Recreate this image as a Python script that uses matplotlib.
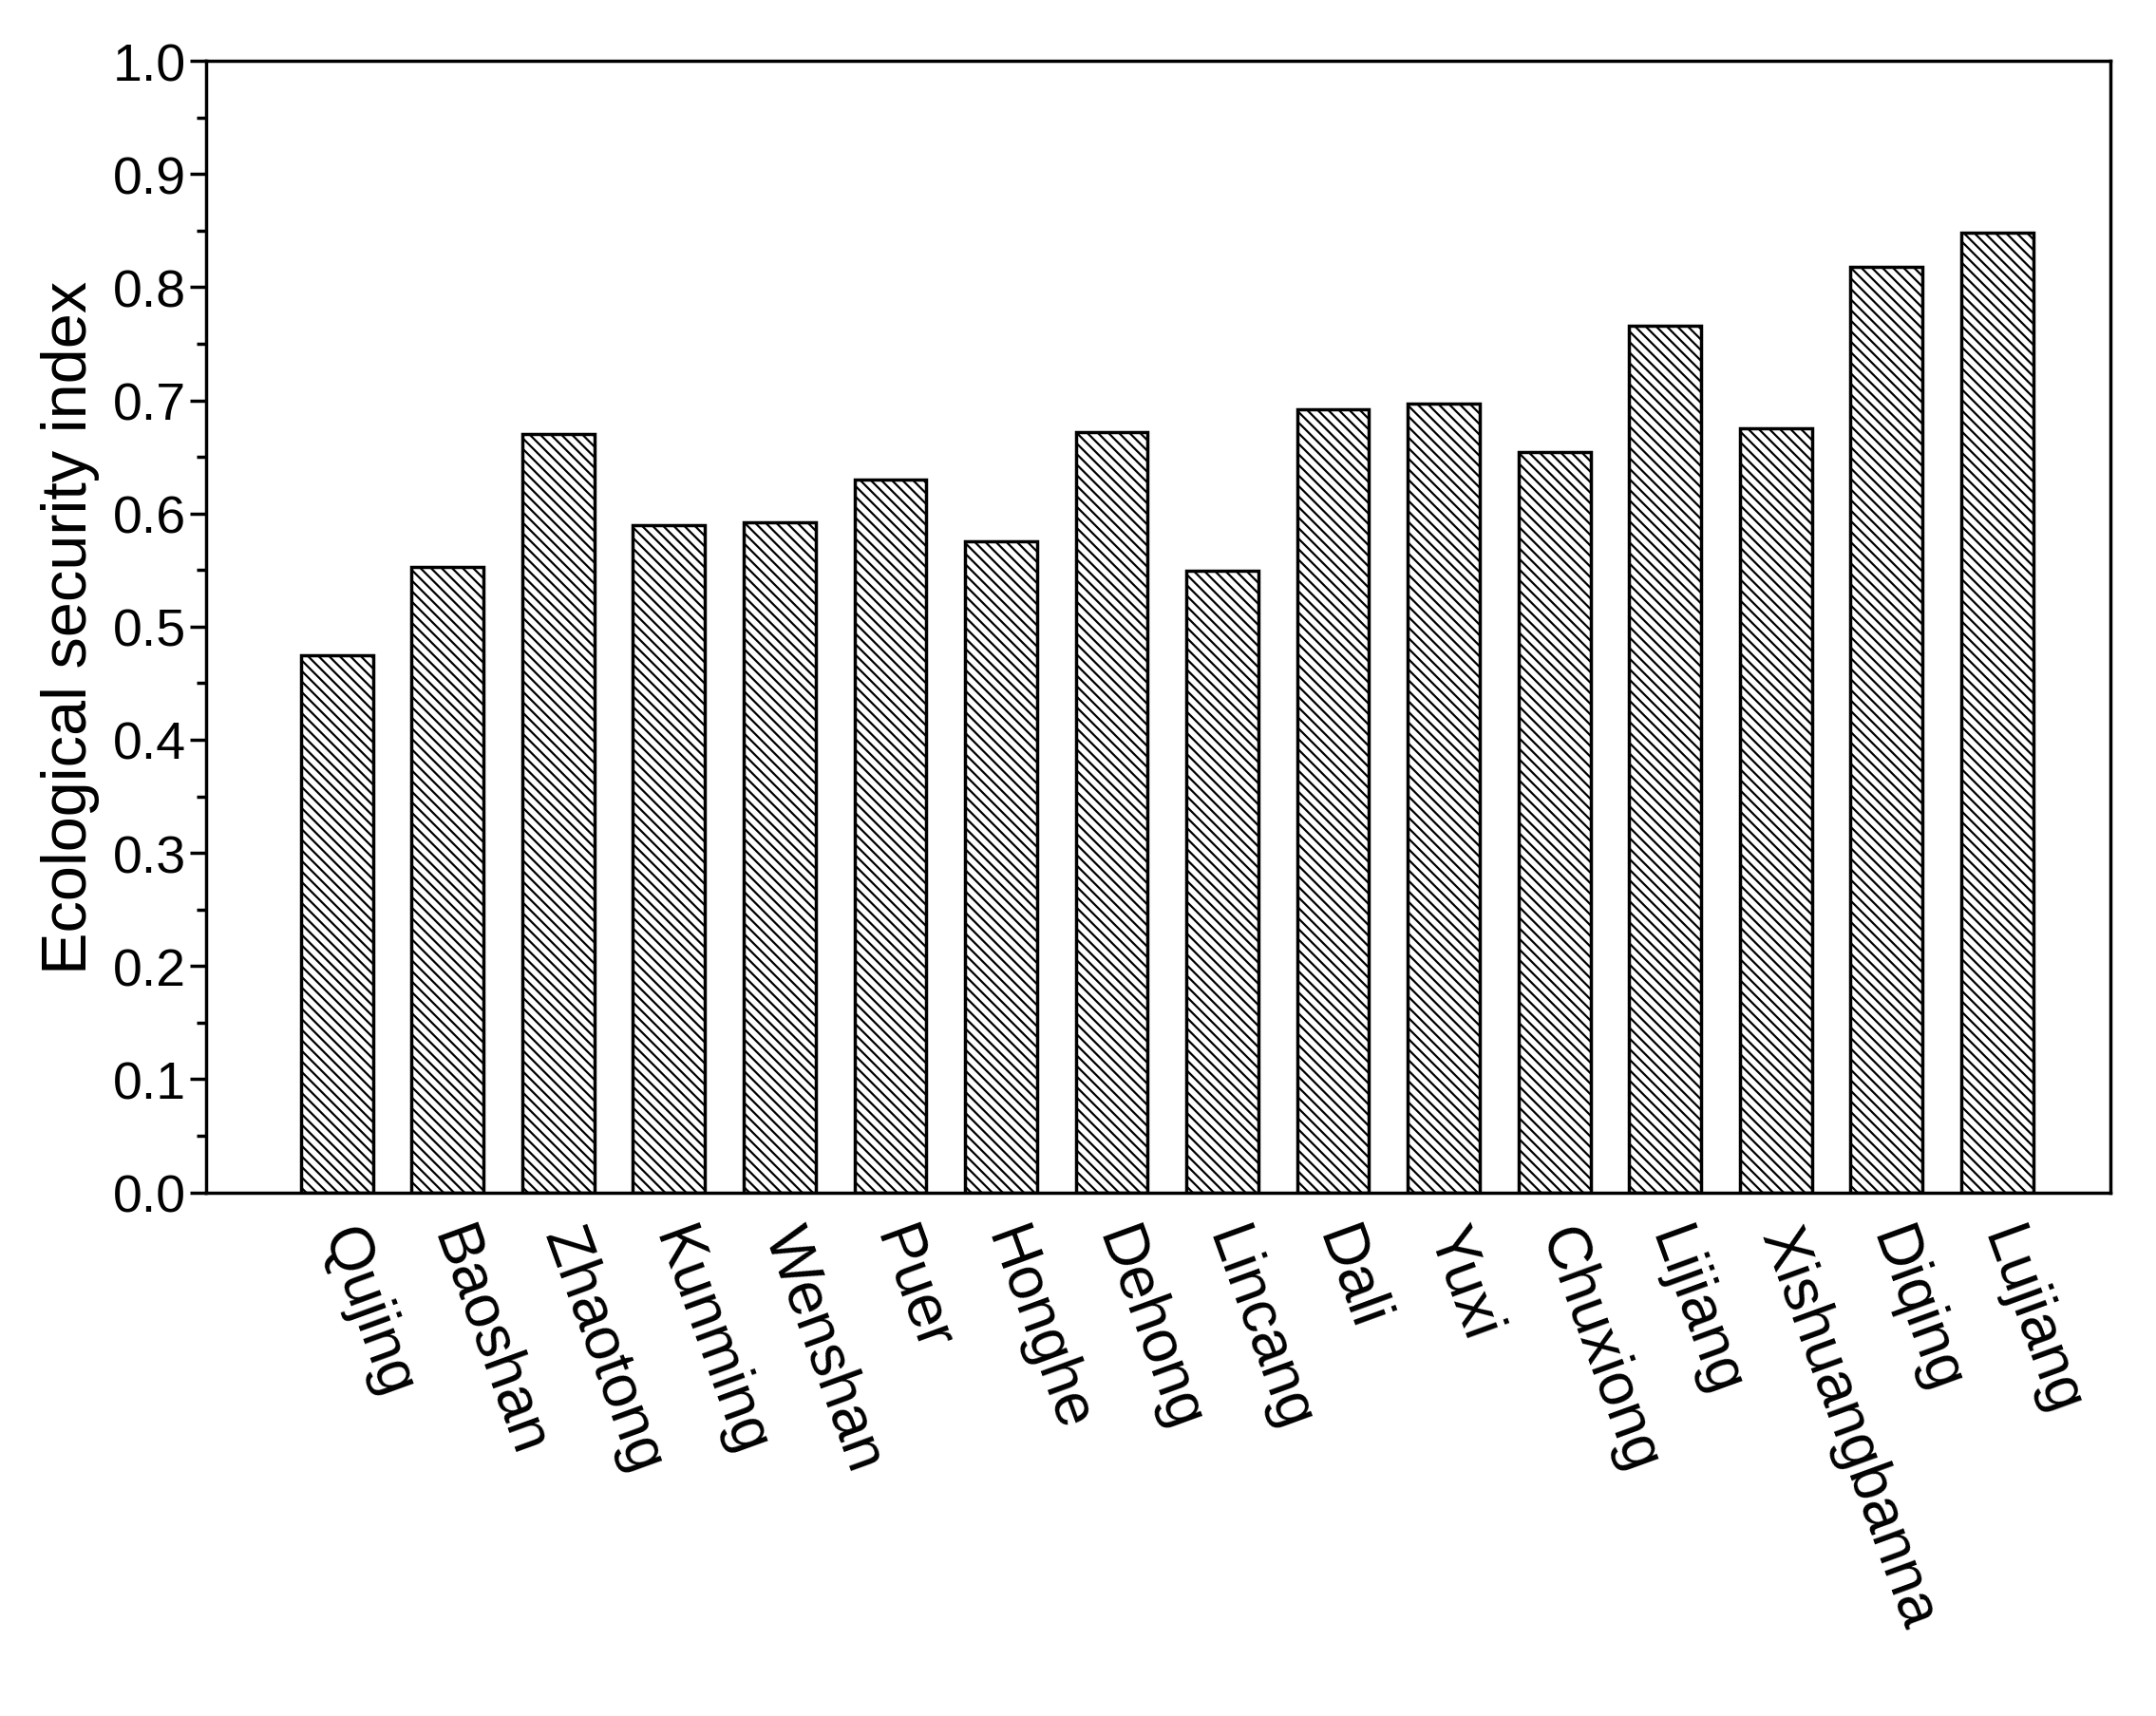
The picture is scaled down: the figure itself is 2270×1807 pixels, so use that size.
import matplotlib
matplotlib.use('Agg')
import matplotlib.pyplot as plt
from matplotlib.ticker import MultipleLocator

cities = ['Qujing', 'Baoshan', 'Zhaotong', 'Kunming', 'Wenshan', 'Puer', 'Honghe',
          'Dehong', 'Lincang', 'Dali', 'Yuxi', 'Chuxiong', 'Lijiang',
          'Xishuangbanna', 'Diqing', 'Lujiang']
index_values = [0.475, 0.553, 0.670, 0.590, 0.592, 0.630, 0.575, 0.672, 0.549,
                0.692, 0.697, 0.654, 0.766, 0.675, 0.818, 0.848]

plt.rcParams['font.family'] = ['Liberation Sans', 'DejaVu Sans']
plt.rcParams['hatch.linewidth'] = 1.6

fig = plt.figure(figsize=(22.7, 18.08), dpi=100)
ax = fig.add_axes([0.0957, 0.305, 0.883, 0.659])

x = list(range(len(cities)))
ax.bar(x, index_values, width=0.65, color='white', edgecolor='black',
       linewidth=2.5, hatch='\\\\\\')

ax.set_xlim(-1.18, 16.02)
ax.set_ylim(0, 1.0)
ax.yaxis.set_major_locator(MultipleLocator(0.1))
ax.yaxis.set_minor_locator(MultipleLocator(0.05))
ax.yaxis.set_major_formatter(matplotlib.ticker.FormatStrFormatter('%.1f'))
ax.tick_params(axis='y', which='major', direction='out', length=12, width=2.5, labelsize=40)
ax.tick_params(axis='y', which='minor', direction='out', length=7, width=2.5)
ax.set_xticks(x)
ax.set_xticklabels(cities, rotation=-70, rotation_mode='anchor', ha='left', va='center',
                   fontsize=46)
ax.tick_params(axis='x', length=0, pad=28)
for s in ax.spines.values():
    s.set_linewidth(2.5)
ax.set_ylabel('Ecological security index', fontsize=48, labelpad=10)

fig.savefig('out.png', dpi=100)
